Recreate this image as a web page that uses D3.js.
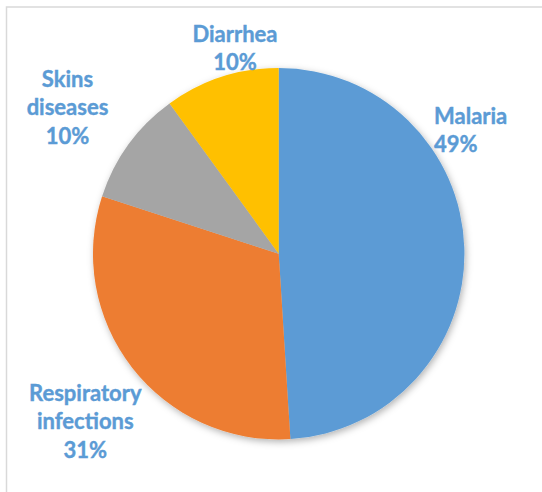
<!DOCTYPE html>
<html>
<head>
<meta charset="utf-8">
<script src="https://cdn.jsdelivr.net/npm/d3@7"></script>
<style>
  body { margin: 0; background: #fff; }
  svg { display: block; }
</style>
</head>
<body>
<div id="chart"></div>
<script>
// data (percent of cases)
var categories = ["Malaria", "Respiratory infections", "Skins diseases", "Diarrhea"];
var values = [49, 31, 10, 10];
var colors = ["#5B9BD5", "#ED7D31", "#A5A5A5", "#FFC000"];
// label text split in lines like the original
var labelLines = [["Malaria"], ["Respiratory", "infections"], ["Skins", "diseases"], ["Diarrhea"]];

var svgWidth = 542;
var svgHeight = 492;

var cx = 278.7, cy = 253.7, radius = 185.7;

// where each label sits (x, first baseline, anchor)
var labelPos = [
  { x: 434, y: 123.5, anchor: "start" },
  { x: 85.3, y: 400.5, anchor: "middle" },
  { x: 67.5, y: 86.7, anchor: "middle" },
  { x: 235, y: 41.7, anchor: "middle" }
];
var lineHeight = 28.5;

var svg = d3.select("#chart")
  .append("svg")
  .attr("width", svgWidth)
  .attr("height", svgHeight);

// soft shadow under the pie
var defs = svg.append("defs");
var filter = defs.append("filter")
  .attr("id", "shadow")
  .attr("x", "-10%").attr("y", "-10%")
  .attr("width", "120%").attr("height", "120%");
filter.append("feDropShadow")
  .attr("dx", 1.5)
  .attr("dy", 2.5)
  .attr("stdDeviation", 3.5)
  .attr("flood-color", "#000")
  .attr("flood-opacity", 0.3);

// chart border
svg.append("rect")
  .attr("x", 6.5)
  .attr("y", 7)
  .attr("width", 700)
  .attr("height", 700)
  .attr("fill", "none")
  .attr("stroke", "#d9d9d9")
  .attr("stroke-width", 1.5);

var pie = d3.pie().sort(null).value(function (d) { return d; });
var arc = d3.arc().innerRadius(0).outerRadius(radius);

var pieGroup = svg.append("g")
  .attr("transform", "translate(" + cx + "," + cy + ")")
  .attr("filter", "url(#shadow)");

var arcs = pie(values);

pieGroup.selectAll("path")
  .data(arcs)
  .enter()
  .append("path")
  .attr("d", arc)
  .attr("fill", function (d, i) { return colors[i]; });

// labels
var total = d3.sum(values);
var labels = svg.append("g")
  .attr("font-family", "Lato, 'Open Sans', sans-serif")
  .attr("font-weight", "bold")
  .attr("font-size", 22)
  .attr("fill", "#5B9BD5")
  .attr("stroke", "#5B9BD5")
  .attr("stroke-width", 0.4);

arcs.forEach(function (d, i) {
  var lines = labelLines[i].concat([Math.round(d.value / total * 100) + "%"]);
  var t = labels.append("text")
    .attr("text-anchor", labelPos[i].anchor);
  lines.forEach(function (line, j) {
    t.append("tspan")
      .attr("x", labelPos[i].x)
      .attr("y", labelPos[i].y + j * lineHeight)
      .text(line);
  });
});
</script>
</body>
</html>
